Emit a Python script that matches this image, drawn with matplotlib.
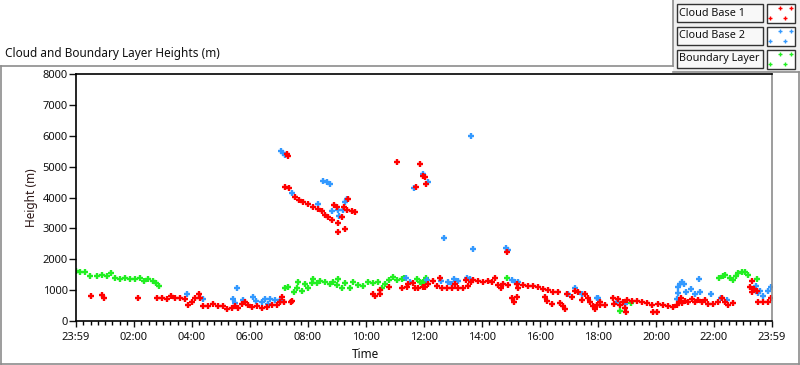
import matplotlib
matplotlib.use('Agg')
import matplotlib.pyplot as plt
from matplotlib.patches import Rectangle
from matplotlib.lines import Line2D

plt.rcParams['font.family'] = ['Noto Sans', 'DejaVu Sans']

# time in hours after midnight, heights in metres
cb1_time = [0.52, 0.89, 0.97, 2.13, 2.78, 2.95, 3.13, 3.26, 3.41, 3.59, 3.76, 3.87, 3.99, 4.10, 4.24, 4.28,
            4.39, 4.56, 4.74, 4.91, 5.08, 5.22, 5.37, 5.48, 5.60, 5.71, 5.83, 5.94, 6.06, 6.23, 6.40, 6.57,
            6.75, 6.92, 7.03, 7.11, 7.18, 7.41, 7.46,
            7.21, 7.27, 7.32, 7.36, 7.55, 7.70, 7.84, 8.01, 8.18, 8.36, 8.47, 8.59, 8.70, 8.82, 8.90, 8.99,
            9.05, 9.05, 9.16, 9.24, 9.29, 9.36, 9.37, 9.51, 9.62,
            10.25, 10.31, 10.48, 10.49, 10.79, 11.08, 11.23, 11.40, 11.46, 11.63, 11.69, 11.72, 11.80, 11.86,
            11.98, 12.03, 12.07, 11.98, 12.03, 12.15, 12.32, 12.44, 12.55, 12.61, 12.78, 12.96, 13.07, 13.18,
            13.36, 13.45, 13.53, 13.61, 13.70, 13.87, 14.04, 14.22, 14.33, 14.45, 14.56, 14.65, 14.74, 14.85,
            14.91, 15.05, 15.12, 15.20, 15.22, 15.25, 15.42, 15.60, 15.77, 15.94, 16.11, 16.17, 16.25, 16.29,
            16.40, 16.46, 16.63, 16.69, 16.78, 16.86, 16.92, 17.09, 17.21, 17.32, 17.44, 17.55, 17.67, 17.72,
            17.84, 17.90, 17.95, 18.07, 18.07, 18.24, 18.53, 18.56, 18.70, 18.76, 18.87, 18.93, 18.97, 18.99,
            19.16, 19.33, 19.51, 19.68, 19.85, 19.91, 20.02, 20.08, 20.25, 20.43, 20.60, 20.71, 20.79, 20.86,
            20.91, 21.00, 21.11, 21.23, 21.34, 21.46, 21.58, 21.69, 21.80, 21.97, 22.15, 22.26, 22.38, 22.49,
            22.64, 23.24, 23.30, 23.32, 23.39, 23.47, 23.53, 23.70, 23.87, 23.97]
cb1_height = [800, 832, 735, 735, 755, 735, 703, 810, 735, 735, 703, 518, 626, 735, 865, 735,
              496, 496, 541, 496, 496, 389, 410, 496, 410, 541, 626, 518, 464, 496, 432, 464,
              518, 518, 605, 788, 626, 605, 648,
              4332, 5411, 5346, 4300, 4008, 3920, 3865, 3791, 3703, 3619, 3574, 3434, 3360, 3272, 3749, 3684,
              3165, 2874, 3380, 3684, 2971, 3596, 3943, 3574, 3532,
              865, 820, 1004, 865, 1111, 5142, 1080, 1111, 1189, 1221, 1080, 4332, 1080, 5077,
              4698, 4656, 4429, 1111, 1111, 1189, 1296, 1144, 1403, 1080, 1080, 1080, 1189, 1080,
              1080, 1329, 1144, 1254, 1329, 1296, 1273, 1296, 1254, 1383, 1166, 1059, 1189, 2226,
              1166, 735, 605, 1189, 768, 1080, 1166, 1144, 1144, 1111, 1037, 788, 648, 1004,
              541, 930, 930, 573, 496, 389, 865, 788, 972, 930, 680, 865, 735, 626,
              496, 389, 518, 518, 605, 518, 735, 541, 713, 518, 626, 410, 281, 680,
              648, 648, 626, 573, 518, 302, 302, 541, 518, 496, 464, 518, 626, 755,
              573, 648, 626, 713, 626, 680, 605, 680, 541, 541, 626, 735, 626, 518,
              573, 1111, 950, 1296, 1037, 972, 626, 626, 626, 735]

cb2_time = [3.82, 4.39, 5.43, 5.54, 5.48, 5.77, 6.11, 6.19, 6.43, 6.52, 6.69, 6.86, 7.03, 6.63,
            7.06, 7.15, 7.21, 7.44, 8.36, 8.53, 8.64, 8.76, 8.82, 9.05, 9.08, 9.22, 9.28, 9.33,
            11.38, 11.52, 11.67, 11.95, 12.15, 12.11, 12.58, 12.68, 12.84, 12.96, 13.05, 13.18, 13.47, 13.59,
            13.61, 13.68, 14.82, 14.89, 15.02, 15.14, 15.25, 16.98, 17.21, 17.44, 17.95, 18.01, 18.64, 18.93,
            20.71, 20.75, 20.77, 20.83, 20.91, 20.98, 21.02, 21.21, 21.34, 21.49, 21.53, 21.90, 22.24, 22.44,
            23.44, 23.53, 23.59, 23.70, 23.85, 23.97]
cb2_height = [865, 703, 703, 1059, 573, 670, 788, 658, 626, 713, 713, 680, 680, 541,
              5498, 5433, 5369, 4157, 3781, 4546, 4514, 4439, 3564, 3596, 3412, 3596, 3846, 3943,
              1403, 1273, 4300, 4763, 4494, 1329, 1296, 2679, 1273, 1189, 1351, 1296, 1403, 1351,
              5984, 2323, 2355, 2300, 1329, 1273, 1273, 865, 1059, 865, 755, 735, 626, 541,
              713, 897, 1111, 1189, 1254, 1189, 930, 1037, 865, 1351, 930, 865, 735, 680,
              1144, 897, 972, 820, 972, 1111]

bl_time = [0.00, 0.14, 0.31, 0.48, 0.71, 0.89, 1.06, 1.20, 1.34, 1.52, 1.69, 1.86, 2.03, 2.21, 2.34,
           2.49, 2.64, 2.76, 2.87,
           7.21, 7.32, 7.53, 7.61, 7.67, 7.80, 7.90, 7.99, 8.13, 8.18, 8.30, 8.41, 8.59, 8.76, 8.87,
           8.99, 9.05, 9.16, 9.28, 9.45, 9.56, 9.73, 9.91, 10.08, 10.25, 10.43, 10.54, 10.66, 10.79, 10.94,
           11.06, 11.23, 11.32, 11.75, 11.86, 11.92, 11.97, 12.07, 14.85, 18.76, 19.14,
           22.17, 22.30, 22.38, 22.55, 22.67, 22.75, 22.84, 22.95, 23.07, 23.16, 23.49]
bl_height = [1620, 1577, 1600, 1458, 1468, 1490, 1468, 1545, 1403, 1361, 1383, 1361, 1361, 1383, 1296,
             1361, 1296, 1221, 1144,
             1080, 1091, 930, 1080, 1254, 972, 1189, 1059, 1221, 1351, 1221, 1296, 1254, 1189, 1254,
             1166, 1361, 1080, 1221, 1080, 1273, 1166, 1144, 1273, 1221, 1273, 1080, 1189, 1329, 1435,
             1329, 1361, 1403, 1361, 1254, 1221, 1254, 1403, 1403, 334, 573,
             1403, 1458, 1490, 1383, 1329, 1468, 1545, 1600, 1577, 1490, 1351]

series_names = ['Cloud Base 1', 'Cloud Base 2', 'Boundary Layer']
series_colors = ['#ff0000', '#3399ff', '#22ee22']
x_ticks = [0, 2, 4, 6, 8, 10, 12, 14, 16, 18, 20, 22, 24]
x_labels = ['23:59', '02:00', '04:00', '06:00', '08:00', '10:00', '12:00',
            '14:00', '16:00', '18:00', '20:00', '22:00', '23:59']
y_ticks = [0, 1000, 2000, 3000, 4000, 5000, 6000, 7000, 8000]

W, H = 800, 365


def fx(px):
    return px / W


def fy(py):
    return 1 - py / H


fig = plt.figure(figsize=(8, 3.65), dpi=100)
fig.patch.set_facecolor('white')

# outer panel frame and legend panel
fig.add_artist(Rectangle((fx(673), fy(72)), fx(800) - fx(673), fy(0) - fy(72),
                         transform=fig.transFigure, facecolor='#f0f0f0', edgecolor='none', zorder=0))
gray = '#8c8c8c'
for xs, ys in [([1, 673], [66, 66]), ([673, 673], [66, 0]), ([673, 799], [72, 72]),
               ([1, 1], [66, 364]), ([1, 799], [364, 364]), ([798.5, 798.5], [72, 364])]:
    fig.add_artist(Line2D([fx(x) for x in xs], [fy(y) for y in ys], transform=fig.transFigure,
                          color=gray, lw=1.2))

fig.text(fx(5), fy(54), 'Cloud and Boundary Layer Heights (m)', fontsize=8.5, va='center', ha='left',
         color='#111111')

# legend boxes
row_tops = [4.5, 27.5, 50.5]
for name, color, top in zip(series_names, series_colors, row_tops):
    fig.add_artist(Rectangle((fx(677), fy(top + 17)), fx(763) - fx(677), fy(top) - fy(top + 17),
                             transform=fig.transFigure, facecolor='#f8f8f8', edgecolor='#333333',
                             lw=1.0))
    fig.text(fx(679), fy(top + 8.5), name, fontsize=7.8, va='center', ha='left', color='#111111')
    fig.add_artist(Rectangle((fx(767), fy(top + 18)), fx(795) - fx(767), fy(top) - fy(top + 18),
                             transform=fig.transFigure, facecolor='white', edgecolor='#333333',
                             lw=1.0))
    for dx, dy in [(0.45, 0.2), (0.85, 0.2), (0.1, 0.75), (0.65, 0.75)]:
        fig.add_artist(Line2D([fx(767 + dx * 28)], [fy(top + dy * 18)], transform=fig.transFigure,
                              marker='+', color=color, ms=3.5, mew=1.0, linestyle='none'))

ax = fig.add_axes([fx(76), fy(321), fx(772) - fx(76), fy(74) - fy(321)])
ax.set_facecolor('white')

for t, h, c in [(bl_time, bl_height, series_colors[2]),
                (cb2_time, cb2_height, series_colors[1]),
                (cb1_time, cb1_height, series_colors[0])]:
    ax.plot(t, h, linestyle='none', marker='+', color=c, ms=4.5, mew=1.7, clip_on=True)

ax.set_xlim(0, 24)
ax.set_ylim(0, 8000)
ax.set_xticks(x_ticks)
ax.set_xticklabels(x_labels)
ax.set_xticks([i * 0.25 for i in range(97)], minor=True)
ax.set_yticks(y_ticks)
ax.tick_params(axis='both', labelsize=8, colors='#111111', width=1.0)
ax.tick_params(axis='x', which='major', length=4, pad=4)
ax.tick_params(axis='x', which='minor', length=3, width=1.0)
ax.tick_params(axis='y', length=5, pad=1)

for side in ['left', 'bottom', 'top']:
    ax.spines[side].set_color('black')
    ax.spines[side].set_linewidth(1.2)
ax.spines['right'].set_color('#8c8c8c')
ax.spines['right'].set_linewidth(1.2)

fig.text(fx(365), fy(354), 'Time', fontsize=8.5, ha='center', va='center', color='#111111')
fig.text(fx(31), fy(198), 'Height (m)', fontsize=8.5, ha='center', va='center', rotation=90,
         color='#2a1515')

fig.savefig('out.png', dpi=100)
